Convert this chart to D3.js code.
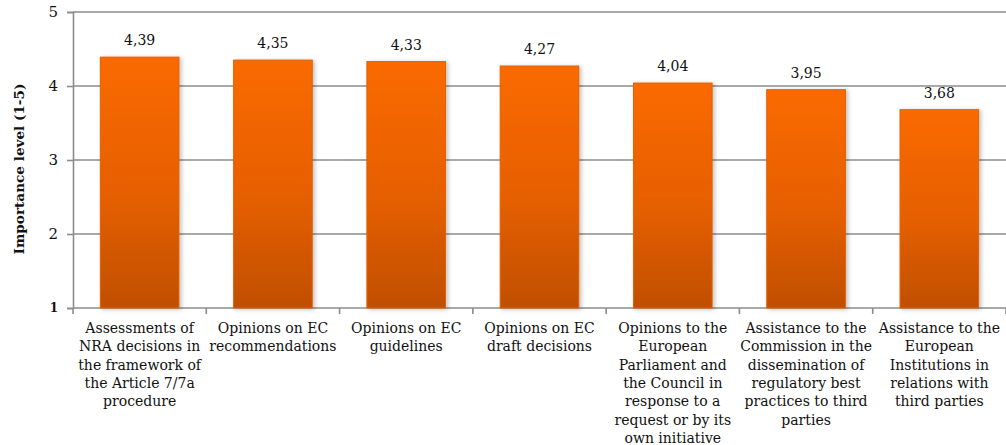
<!DOCTYPE html>
<html>
<head>
<meta charset="utf-8">
<script src="https://cdn.jsdelivr.net/npm/d3@7"></script>
<style>
  body { margin: 0; background: #fff; }
  svg text { font-family: 'DejaVu Serif', Georgia, serif; fill: #111; }
</style>
</head>
<body>
<div id="chart"></div>
<script>
// chart data
const categories = [
    'Assessments of NRA decisions in the framework of the Article 7/7a procedure',
    'Opinions on EC recommendations',
    'Opinions on EC guidelines',
    'Opinions on EC draft decisions',
    'Opinions to the European Parliament and the Council in response to a request or by its own initiative',
    'Assistance to the Commission in the dissemination of regulatory best practices to third parties',
    'Assistance to the European Institutions in relations with third parties'
];
const categoryLines = [
    ['Assessments of', 'NRA decisions in', 'the framework of', 'the Article 7/7a', 'procedure'],
    ['Opinions on EC', 'recommendations'],
    ['Opinions on EC', 'guidelines'],
    ['Opinions on EC', 'draft decisions'],
    ['Opinions to the', 'European', 'Parliament and', 'the Council in', 'response to a', 'request or by its', 'own initiative'],
    ['Assistance to the', 'Commission in the', 'dissemination of', 'regulatory best', 'practices to third', 'parties'],
    ['Assistance to the', 'European', 'Institutions in', 'relations with', 'third parties']
];
const values = [4.39, 4.35, 4.33, 4.27, 4.04, 3.95, 3.68];
const yTicks = [1, 2, 3, 4, 5];
const yTitle = 'Importance level (1-5)';

const width = 1006, height = 445;
const margin = { top: 12, right: 0, bottom: 137, left: 73 };
const innerW = width - margin.left - margin.right;
const innerH = height - margin.top - margin.bottom;

const svg = d3.select('#chart').append('svg')
    .attr('width', width)
    .attr('height', height);

// bar gradient
const defs = svg.append('defs');
const grad = defs.append('linearGradient').attr('id', 'barGrad')
    .attr('x1', 0).attr('y1', 0).attr('x2', 0).attr('y2', 1);
grad.append('stop').attr('offset', '0%').attr('stop-color', '#fa6a00');
grad.append('stop').attr('offset', '55%').attr('stop-color', '#e65f00');
grad.append('stop').attr('offset', '100%').attr('stop-color', '#c04f00');

const shadow = defs.append('filter').attr('id', 'shadow')
    .attr('x', '-20%').attr('y', '-20%').attr('width', '140%').attr('height', '140%');
shadow.append('feDropShadow').attr('dx', 2).attr('dy', 1).attr('stdDeviation', 2)
    .attr('flood-color', '#000').attr('flood-opacity', 0.25);

const g = svg.append('g').attr('transform', `translate(${margin.left},${margin.top})`);

// scales
const x = d3.scaleBand().domain(d3.range(categories.length)).range([0, innerW])
    .paddingInner(0.41).paddingOuter(0.205);
const band = innerW / categories.length;
const y = d3.scaleLinear().domain([1, 5]).range([innerH, 0]);

// gridlines
g.append('g').attr('class', 'grid')
    .selectAll('line').data(yTicks.filter(t => t > 1)).enter()
    .append('line')
    .attr('x1', 0).attr('x2', innerW)
    .attr('y1', d => y(d)).attr('y2', d => y(d))
    .attr('stroke', '#8c8c8c').attr('stroke-width', 1.6);

// y axis
const yAxis = g.append('g')
    .call(d3.axisLeft(y).tickValues(yTicks).tickSize(6).tickPadding(9).tickFormat(d3.format('d')));
yAxis.select('.domain').attr('stroke', '#8c8c8c').attr('stroke-width', 1.6);
yAxis.selectAll('.tick line').attr('stroke', '#8c8c8c').attr('stroke-width', 1.6);
yAxis.selectAll('.tick text')
    .style('font-size', d => d === 1 ? '12px' : '15px')
    .style('font-weight', d => d === 1 ? 'bold' : 'normal')
    .style('font-family', "'DejaVu Serif', Georgia, serif")
    .attr('fill', '#111');

// x axis line with ticks at band boundaries
const xAxisG = g.append('g').attr('transform', `translate(0,${innerH})`);
xAxisG.append('line').attr('x1', 0).attr('x2', innerW)
    .attr('stroke', '#8c8c8c').attr('stroke-width', 1.6);
xAxisG.selectAll('.xtick').data(d3.range(categories.length + 1)).enter()
    .append('line').attr('class', 'xtick')
    .attr('x1', d => d * band).attr('x2', d => d * band)
    .attr('y1', 0).attr('y2', 6)
    .attr('stroke', '#8c8c8c').attr('stroke-width', 1.6);

// category labels
const labels = xAxisG.selectAll('.xlabel').data(categoryLines).enter()
    .append('text').attr('class', 'xlabel')
    .attr('text-anchor', 'middle')
    .style('font-size', '14px')
    .attr('transform', (d, i) => `translate(${x(i) + x.bandwidth() / 2},25)`);
labels.selectAll('tspan').data(d => d).enter()
    .append('tspan')
    .attr('x', 0)
    .attr('y', (d, i) => i * 18.3)
    .text(d => d);

// bars
g.selectAll('.bar').data(values).enter()
    .append('rect').attr('class', 'bar')
    .attr('x', (d, i) => x(i))
    .attr('y', d => y(d))
    .attr('width', x.bandwidth())
    .attr('height', d => innerH - y(d))
    .attr('fill', 'url(#barGrad)')
    .attr('stroke', '#e26000').attr('stroke-width', 1)
    .attr('filter', 'url(#shadow)');

// value labels
g.selectAll('.val').data(values).enter()
    .append('text').attr('class', 'val')
    .attr('x', (d, i) => x(i) + x.bandwidth() / 2)
    .attr('y', d => y(d) - 12)
    .attr('text-anchor', 'middle')
    .style('font-size', '14px')
    .text(d => d3.format('.2f')(d).replace('.', ','));

// y axis title
svg.append('text')
    .attr('transform', `translate(24,169) rotate(-90)`)
    .attr('text-anchor', 'middle')
    .style('font-size', '13.6px')
    .style('font-weight', 'bold')
    .text(yTitle);
</script>
</body>
</html>
